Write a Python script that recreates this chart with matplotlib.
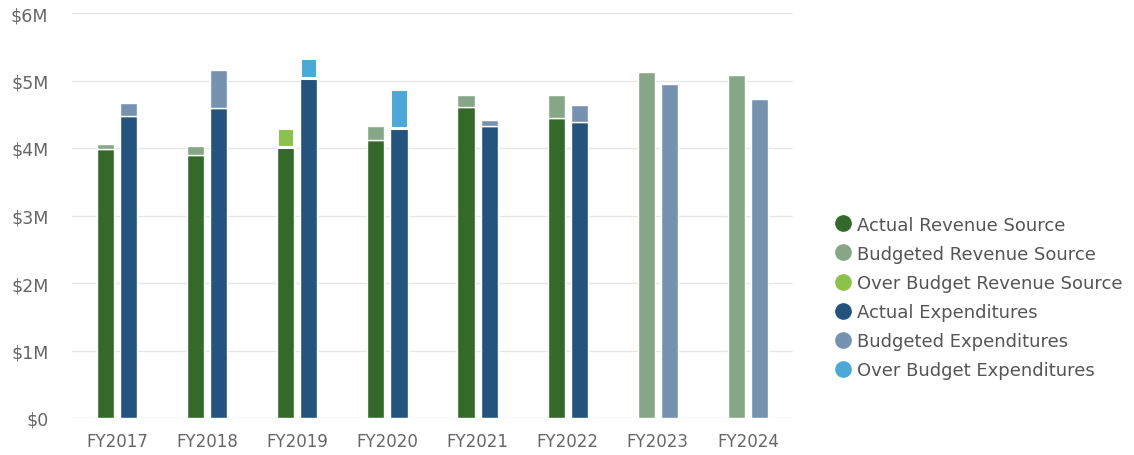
import numpy as np
import matplotlib
matplotlib.use("Agg")
import matplotlib.pyplot as plt
from matplotlib.lines import Line2D

years = ["FY2017", "FY2018", "FY2019", "FY2020", "FY2021", "FY2022", "FY2023", "FY2024"]
rev_actual = [3.99, 3.90, 4.30, 4.12, 4.61, 4.45, np.nan, np.nan]
rev_budget = [4.06, 4.03, 4.01, 4.32, 4.79, 4.79, 5.12, 5.08]
exp_actual = [4.48, 4.59, 5.33, 4.87, 4.32, 4.39, np.nan, np.nan]
exp_budget = [4.66, 5.15, 5.04, 4.30, 4.41, 4.63, 4.95, 4.72]

yticks = [0, 1, 2, 3, 4, 5, 6]
ytick_labels = ["$0", "$1M", "$2M", "$3M", "$4M", "$5M", "$6M"]

c_rev_act = "#346a29"
c_rev_bud = "#86a785"
c_rev_over = "#8bc34a"
c_exp_act = "#24547d"
c_exp_bud = "#7592b0"
c_exp_over = "#4aa9d8"

plt.rcParams['font.family'] = ['DejaVu Sans']

fig = plt.figure(figsize=(11.34, 4.56), dpi=100)
ax = fig.add_axes([72/1134, 37/456, 721/1134, 405/456])

x = np.arange(len(years))
w = 0.19
off = 0.128

def draw(xpos, actual, budget, c_act, c_bud, c_over):
    actual = np.array(actual, dtype=float)
    budget = np.array(budget, dtype=float)
    for i in range(len(xpos)):
        a, b = actual[i], budget[i]
        kw = dict(width=w, edgecolor="white", linewidth=1.0)
        if np.isnan(a):
            ax.bar(xpos[i], b, color=c_bud, **kw)
        elif a <= b:
            ax.bar(xpos[i], a, color=c_act, **kw)
            ax.bar(xpos[i], b - a, bottom=a, color=c_bud, **kw)
        else:
            ax.bar(xpos[i], b, color=c_act, **kw)
            ax.bar(xpos[i], a - b, bottom=b, color=c_over, edgecolor="white", width=w, linewidth=2.2)

draw(x - off, rev_actual, rev_budget, c_rev_act, c_rev_bud, c_rev_over)
draw(x + off, exp_actual, exp_budget, c_exp_act, c_exp_bud, c_exp_over)

ax.set_xlim(-0.5, len(years) - 0.5)
ax.set_ylim(0, 6)
ax.set_yticks(yticks)
ax.set_yticklabels(ytick_labels)
ax.set_xticks(x)
ax.set_xticklabels(years)
ax.grid(axis="y", color="#e6e6e6", linewidth=1.0)
ax.set_axisbelow(True)
for s in ax.spines.values():
    s.set_visible(False)
ax.tick_params(axis="y", length=0, pad=17, labelsize=12.5, labelcolor="#666666")
ax.tick_params(axis="x", length=0, pad=10, labelsize=12, labelcolor="#666666")

labels = ["Actual Revenue Source", "Budgeted Revenue Source", "Over Budget Revenue Source",
          "Actual Expenditures", "Budgeted Expenditures", "Over Budget Expenditures"]
colors = [c_rev_act, c_rev_bud, c_rev_over, c_exp_act, c_exp_bud, c_exp_over]
handles = [Line2D([], [], marker="o", linestyle="none", markersize=11,
                  markerfacecolor=c, markeredgecolor=c) for c in colors]
leg = fig.legend(handles, labels, loc="center left", bbox_to_anchor=(834/1134, 1 - 298.5/456),
                 frameon=False, fontsize=13, labelcolor="#555555", handlelength=1.0,
                 handletextpad=0.25, labelspacing=0.62, borderaxespad=0, borderpad=0)

fig.savefig("out.png", dpi=100)
